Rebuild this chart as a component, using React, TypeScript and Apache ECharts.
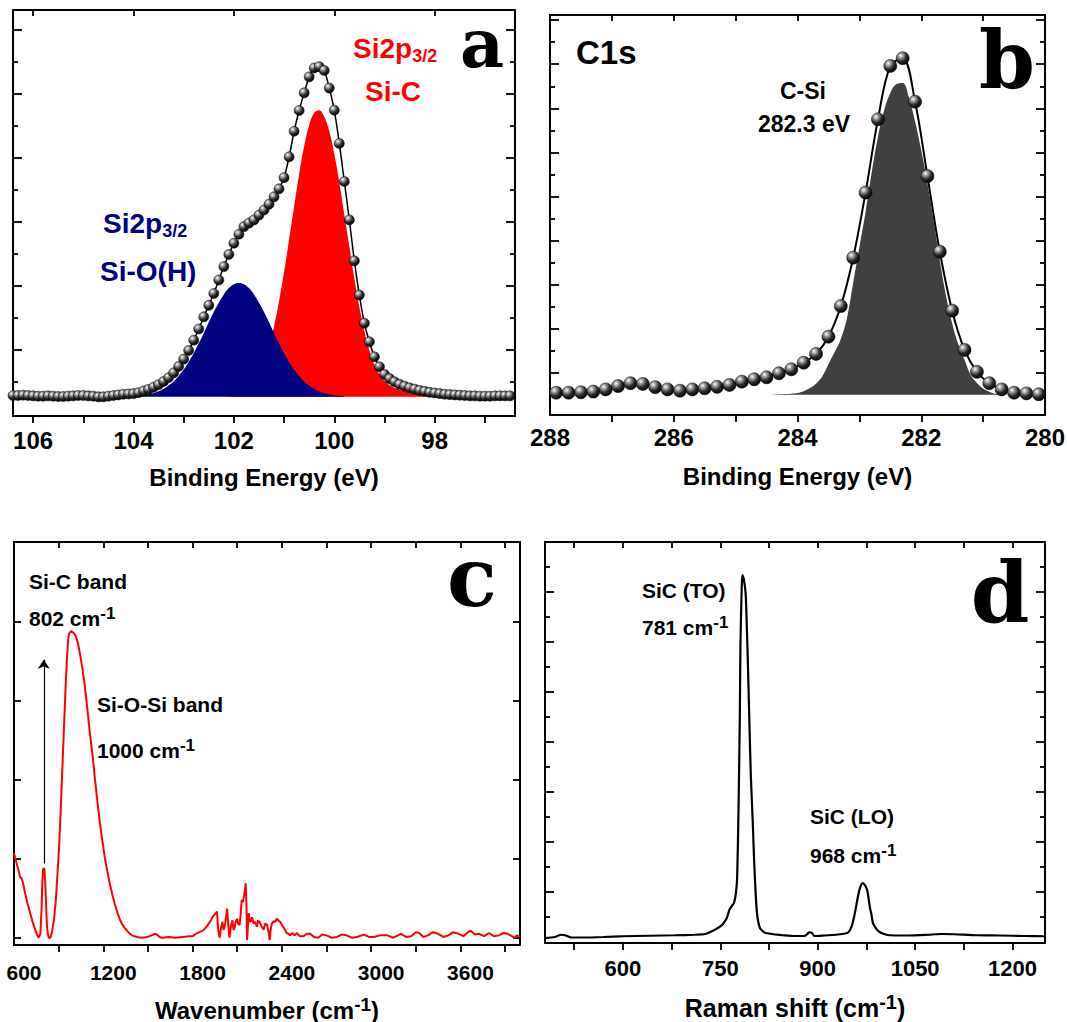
import React, { useEffect, useRef } from "react";
import * as echarts from "echarts";

const SANS = "'Liberation Sans', Arial, Helvetica, sans-serif";
const SERIF = "'DejaVu Serif', 'Liberation Serif', serif";

// ---------- Panel a : Si2p XPS ----------
const aEnergy = [106.4,106.3,106.2,106.1,106.0,105.9,105.8,105.7,105.6,105.5,105.4,105.3,105.2,105.1,105.0,104.9,104.8,104.7,104.6,104.5,104.4,104.3,104.2,104.1,104.0,103.9,103.8,103.7,103.6,103.5,103.4,103.3,103.2,103.1,103.0,102.9,102.8,102.7,102.6,102.5,102.4,102.3,102.2,102.1,102.0,101.9,101.8,101.7,101.6,101.5,101.4,101.3,101.2,101.1,101.0,100.9,100.8,100.7,100.6,100.5,100.4,100.3,100.2,100.1,100.0,99.9,99.8,99.7,99.6,99.5,99.4,99.3,99.2,99.1,99.0,98.9,98.8,98.7,98.6,98.5,98.4,98.3,98.2,98.1,98.0,97.9,97.8,97.7,97.6,97.5,97.4,97.3,97.2,97.1,97.0,96.9,96.8,96.7,96.6,96.5];
const aIntensity = [0.64,0.64,0.65,0.64,0.63,0.62,0.62,0.63,0.62,0.61,0.61,0.62,0.63,0.64,0.64,0.63,0.62,0.60,0.60,0.62,0.64,0.66,0.68,0.69,0.70,0.73,0.78,0.83,0.90,0.98,1.08,1.20,1.35,1.55,1.78,2.05,2.37,2.72,3.10,3.46,3.83,4.25,4.67,5.05,5.40,5.68,5.92,6.03,6.13,6.28,6.44,6.62,6.85,7.10,7.45,8.10,8.90,9.55,10.10,10.60,10.88,10.92,10.80,10.25,9.56,8.52,7.33,6.13,4.85,3.78,2.90,2.32,1.85,1.54,1.30,1.17,1.07,0.99,0.93,0.88,0.84,0.80,0.77,0.74,0.72,0.70,0.68,0.67,0.66,0.65,0.64,0.63,0.63,0.62,0.62,0.62,0.63,0.63,0.63,0.63];
const aSiCEnergy = [102.2,102.1,102.0,101.9,101.8,101.7,101.6,101.5,101.4,101.3,101.2,101.1,101.0,100.9,100.8,100.7,100.6,100.5,100.4,100.3,100.2,100.1,100.0,99.9,99.8,99.7,99.6,99.5,99.4,99.3,99.2,99.1,99.0,98.9,98.8,98.7,98.6,98.5,98.4,98.3,98.2,98.1,98.0,97.9,97.8,97.7,97.6];
const aSiCFit = [0.60,0.61,0.64,0.69,0.76,0.88,1.05,1.31,1.68,2.17,2.80,3.59,4.50,5.51,6.55,7.55,8.43,9.09,9.48,9.56,9.35,8.90,8.20,7.30,6.30,5.30,4.30,3.40,2.65,2.05,1.60,1.30,1.10,0.97,0.88,0.82,0.78,0.74,0.71,0.68,0.66,0.64,0.63,0.62,0.61,0.60,0.60];
const aSiOEnergy = [104.0,103.9,103.8,103.7,103.6,103.5,103.4,103.3,103.2,103.1,103.0,102.9,102.8,102.7,102.6,102.5,102.4,102.3,102.2,102.1,102.0,101.9,101.8,101.7,101.6,101.5,101.4,101.3,101.2,101.1,101.0,100.9,100.8,100.7,100.6,100.5,100.4,100.3,100.2,100.1,100.0,99.9,99.8];
const aSiOFit = [0.62,0.63,0.65,0.68,0.72,0.77,0.85,0.95,1.08,1.25,1.45,1.69,1.96,2.27,2.59,2.93,3.25,3.54,3.80,4.00,4.12,4.16,4.12,4.00,3.80,3.54,3.25,2.93,2.59,2.27,1.96,1.69,1.45,1.25,1.08,0.95,0.85,0.77,0.72,0.68,0.65,0.63,0.62];
const aXLabels = [98, 100, 102, 104, 106];
const aXTicks = [97, 98, 99, 100, 101, 102, 103, 104, 105, 106];
const aTopTicks = [98, 100, 102, 104, 106];
const aYMajor = [2.06, 4.06, 6.06, 8.06, 10.06, 12.06];
const aYMinor = [1.06, 3.06, 5.06, 7.06, 9.06, 11.06];

// ---------- Panel b : C1s XPS ----------
const bEnergy = [287.9,287.7,287.5,287.3,287.1,286.9,286.7,286.5,286.3,286.1,285.9,285.7,285.5,285.3,285.1,284.9,284.7,284.5,284.3,284.1,283.9,283.7,283.5,283.3,283.1,282.9,282.7,282.5,282.3,282.1,281.9,281.7,281.5,281.3,281.1,280.9,280.7,280.5,280.3,280.1];
const bIntensity = [1.01,1.01,1.03,1.06,1.16,1.31,1.44,1.41,1.26,1.16,1.10,1.16,1.21,1.28,1.36,1.51,1.62,1.71,1.89,2.07,2.37,2.77,3.55,4.94,7.13,10.08,13.40,15.82,16.17,14.20,10.83,7.40,4.73,2.95,1.96,1.44,1.16,1.01,0.98,0.94];
const bCSiEnergy = [284.4,284.2,284.0,283.9,283.8,283.7,283.6,283.5,283.4,283.3,283.2,283.1,283.0,282.9,282.8,282.7,282.6,282.5,282.4,282.3,282.2,282.1,282.0,281.9,281.8,281.7,281.6,281.5,281.4,281.3,281.2,281.1,281.0,280.9,280.8,280.6];
const bCSiFit = [0.93,0.95,1.00,1.08,1.22,1.42,1.75,2.30,2.85,3.45,4.40,6.00,7.60,9.20,11.00,12.60,13.80,14.60,15.00,15.05,14.40,13.30,12.00,10.50,8.80,7.00,5.40,4.15,3.20,2.50,1.80,1.45,1.20,1.05,0.96,0.92];
const bXLabels = [280, 282, 284, 286, 288];
const bXTicks = [281, 282, 283, 284, 285, 286, 287];
const bYMajor = [1.9, 3.9, 5.9, 7.9, 9.9, 11.9, 13.9, 15.9, 17.9];
const bYMinor = [0.9, 2.9, 4.9, 6.9, 8.9, 10.9, 12.9, 14.9, 16.9];

// ---------- Panel c : FTIR ----------
const cSpectrum = [
  [600,1.07],[618,0.94],[630,0.86],[641,0.77],[652,0.75],[660,0.70],[675,0.56],[690,0.44],[709,0.31],[725,0.20],
  [743,0.10],[755,0.04],[766,0.00],[777,0.05],[785,0.35],[790,0.70],[795,0.86],[800,0.88],[804,0.87],[809,0.72],
  [813,0.56],[818,0.30],[822,0.14],[828,0.04],[834,0.00],[845,0.00],[856,0.08],[868,0.22],[880,0.45],[891,0.77],
  [903,1.15],[914,1.62],[925,2.15],[936,2.67],[945,3.10],[955,3.51],[963,3.75],[970,3.85],[982,3.88],[993,3.87],
  [1005,3.85],[1016,3.81],[1028,3.74],[1039,3.64],[1050,3.52],[1061,3.39],[1073,3.23],[1084,3.05],[1095,2.86],[1105,2.67],
  [1117,2.48],[1129,2.29],[1140,2.08],[1152,1.87],[1163,1.68],[1175,1.49],[1192,1.25],[1209,1.03],[1226,0.85],[1243,0.69],
  [1260,0.55],[1277,0.43],[1293,0.33],[1309,0.24],[1327,0.17],[1345,0.12],[1368,0.07],[1391,0.03],[1425,0.01],[1459,0.00],
  [1493,0.01],[1510,0.02],[1527,0.03],[1545,0.05],[1561,0.04],[1578,0.01],[1595,0.00],[1640,0.01],[1686,0.00],[1730,0.01],
  [1777,0.02],[1800,0.02],[1822,0.05],[1845,0.07],[1868,0.09],[1885,0.12],[1902,0.16],[1920,0.21],[1936,0.27],[1950,0.30],
  [1964,0.33],[1972,0.10],[1982,0.00],[1991,0.12],[2000,0.20],[2008,0.10],[2016,0.14],[2024,0.25],[2032,0.37],[2040,0.15],
  [2048,0.00],[2058,0.15],[2068,0.22],[2075,0.10],[2082,0.12],[2090,0.20],[2098,0.24],[2106,0.18],[2116,0.16],[2123,0.30],
  [2130,0.48],[2138,0.45],[2145,0.52],[2151,0.60],[2157,0.69],[2162,0.40],[2166,-0.03],[2172,0.15],[2177,0.31],[2184,0.22],
  [2191,0.20],[2200,0.26],[2209,0.18],[2220,0.20],[2232,0.14],[2241,0.22],[2250,0.20],[2262,0.15],[2277,0.10],[2288,0.18],
  [2300,0.16],[2310,0.08],[2318,-0.03],[2325,0.10],[2332,0.18],[2345,0.21],[2355,0.20],[2366,0.24],[2377,0.22],[2390,0.20],
  [2400,0.16],[2415,0.12],[2432,0.06],[2445,0.05],[2455,0.03],[2470,0.06],[2485,0.03],[2500,0.06],[2520,0.02],[2545,0.02],
  [2568,0.05],[2591,0.05],[2615,0.01],[2645,0.00],[2670,0.04],[2700,0.03],[2735,0.00],[2770,0.01],[2800,0.04],[2836,0.03],
  [2870,0.00],[2905,0.01],[2950,0.04],[2985,0.01],[3018,0.01],[3060,0.03],[3109,0.03],[3150,0.00],[3200,0.05],[3235,0.01],
  [3268,0.02],[3300,0.07],[3323,0.06],[3350,0.01],[3382,0.03],[3415,0.07],[3450,0.05],[3485,0.01],[3518,0.03],[3550,0.07],
  [3586,0.05],[3620,0.02],[3650,0.07],[3668,0.09],[3695,0.04],[3723,0.05],[3760,0.02],[3791,0.06],[3825,0.02],[3859,0.03],
  [3890,0.06],[3918,0.05],[3945,0.02],[3964,0.00],[3980,0.03],[4000,0.01]
];
const cArrow = [[800, 0.94], [800, 3.52]];
const cXLabels = [600, 1200, 1800, 2400, 3000, 3600];
const cXTicks = [900, 1200, 1500, 1800, 2100, 2400, 2700, 3000, 3300, 3600, 3900];
const cYTicks = [0, 1, 2, 3, 4];

// ---------- Panel d : Raman ----------
const dSpectrum = [
  [480,0.20],[495,0.24],[505,0.33],[512,0.30],[520,0.22],[540,0.22],[570,0.24],[600,0.27],[640,0.29],[680,0.31],
  [710,0.33],[727,0.36],[737,0.47],[745,0.58],[753,0.73],[760,1.00],[764,1.33],[768,1.50],[771,1.60],[774,2.00],
  [776,2.67],[778,5.33],[780,9.00],[781,12.00],[783,14.30],[784,14.73],[786,14.60],[789,14.00],[791,12.50],[793,10.67],
  [795,8.60],[797,6.67],[800,4.80],[802,3.33],[804,2.20],[806,1.33],[808,0.90],[811,0.60],[815,0.48],[820,0.40],
  [835,0.34],[847,0.31],[865,0.28],[879,0.28],[884,0.36],[887,0.43],[891,0.40],[895,0.28],[910,0.30],[928,0.33],
  [940,0.37],[947,0.42],[952,0.65],[955,0.93],[958,1.30],[961,1.73],[964,2.10],[966,2.27],[968,2.38],[970,2.40],
  [973,2.30],[976,2.13],[978,1.85],[980,1.47],[983,1.10],[985,0.80],[990,0.58],[994,0.47],[1000,0.38],[1010,0.31],
  [1040,0.30],[1070,0.33],[1091,0.36],[1110,0.35],[1145,0.31],[1180,0.30],[1220,0.28],[1250,0.27]
];
const dXLabels = [600, 750, 900, 1050, 1200];
const dXTicks = [525, 600, 675, 750, 825, 900, 975, 1050, 1125, 1200];
const dYMajor = [2.06, 4.06, 6.06, 8.06, 10.06, 12.06, 14.06];
const dYMinor = [1.06, 3.06, 5.06, 7.06, 9.06, 11.06, 13.06, 15.06];

// ---------- helpers ----------
const zip = (xs: number[], ys: number[]) => xs.map((x, i) => [x, ys[i]]);
const LINE = { color: "#000", width: 2 };
const TICK = { color: "#000", width: 1.8 };

function supRich(size: number, supSize: number, lift: number, color = "#000") {
  return {
    m: { fontSize: size, fontWeight: "bold", fontFamily: SANS, color, fill: color, lineHeight: size + 6 },
    s: { fontSize: supSize, fontWeight: "bold", fontFamily: SANS, color, fill: color, lineHeight: Math.max(2, size + 6 - 2 * lift), verticalAlign: "top" },
  };
}
function subRich(size: number, subSize: number, drop: number, color: string) {
  return {
    m: { fontSize: size, fontWeight: "bold", fontFamily: SANS, fill: color, color, lineHeight: size + 6 },
    s: { fontSize: subSize, fontWeight: "bold", fontFamily: SANS, fill: color, color, lineHeight: Math.max(2, size + 6 - 2 * drop), verticalAlign: "bottom" },
  };
}

type Panel = {
  grid: { left: number; top: number; width: number; height: number };
  xMin: number; xMax: number; inverse?: boolean;
  xLabels: number[]; xTicks: number[]; topTicks: number[];
  labelSize: number; labelMargin: number; labelShift: number;
  name: string; nameGap: number; nameSize: number; nameRich?: any;
  yMin: number; yMax: number; yMajor: number[]; yMinor: number[] | null;
  majorLen: number; minorLen: number;
};

function axesFor(g: number, p: Panel) {
  const xBottom = {
    type: "value", gridIndex: g, position: "bottom", min: p.xMin, max: p.xMax, inverse: !!p.inverse,
    axisLine: { show: true, onZero: false, lineStyle: LINE },
    axisTick: { show: true, inside: false, length: 7, lineStyle: TICK, customValues: p.xTicks },
    axisLabel: {
      show: true, customValues: p.xLabels, margin: p.labelMargin, fontSize: p.labelSize, fontWeight: "bold",
      fontFamily: SANS, color: "#000", formatter: (v: number) => String(v),
      padding: p.labelShift ? [0, 0, 0, p.labelShift * 2] : 0,
    },
    splitLine: { show: false },
    name: p.name, nameLocation: "middle", nameGap: p.nameGap, nameMoveOverlap: false,
    nameTextStyle: { fontSize: p.nameSize, fontWeight: "bold", fontFamily: SANS, color: "#000", rich: p.nameRich },
  };
  const xTop = {
    type: "value", gridIndex: g, position: "top", min: p.xMin, max: p.xMax, inverse: !!p.inverse,
    axisLine: { show: true, onZero: false, lineStyle: LINE },
    axisTick: { show: true, inside: true, length: 6, lineStyle: TICK, customValues: p.topTicks },
    axisLabel: { show: false }, splitLine: { show: false },
  };
  const yAx = (pos: string, vals: number[] | null, len: number, line: boolean) => ({
    type: "value", gridIndex: g, position: pos, min: p.yMin, max: p.yMax,
    axisLine: { show: line, onZero: false, lineStyle: LINE },
    axisTick: vals ? { show: true, inside: true, length: len, lineStyle: TICK, customValues: vals } : { show: false },
    axisLabel: { show: false }, splitLine: { show: false },
  });
  return {
    x: [xBottom, xTop],
    y: [yAx("left", p.yMajor, p.majorLen, true), yAx("right", p.yMajor, p.majorLen, true), yAx("left", p.yMinor, p.minorLen, false), yAx("right", p.yMinor, p.minorLen, false)],
  };
}

function text(x: number, y: number, t: string, size: number, color = "#000", rich?: any, align = "left") {
  return {
    type: "text", x, y, silent: true, z: 50,
    style: { text: t, fill: color, fontSize: size, fontWeight: "bold", fontFamily: SANS, align, verticalAlign: "middle", textAlign: align, textVerticalAlign: "middle", rich },
  };
}
function letter(x: number, y: number, t: string, size: number) {
  return {
    type: "text", x, y, silent: true, z: 50,
    style: { text: t, fill: "#000", fontSize: size, fontWeight: "bold", fontFamily: SERIF, align: "center", verticalAlign: "middle", textAlign: "center", textVerticalAlign: "middle" },
  };
}

function buildOption() {
  const panels: Panel[] = [
    { grid: { left: 13, top: 10, width: 502, height: 406 }, xMin: 96.4, xMax: 106.4, inverse: true,
      xLabels: aXLabels, xTicks: aXTicks, topTicks: aTopTicks, labelSize: 24, labelMargin: 12, labelShift: 0,
      name: "Binding Energy (eV)", nameGap: 49, nameSize: 24,
      yMin: 0, yMax: 12.69, yMajor: aYMajor, yMinor: aYMinor, majorLen: 9, minorLen: 5 },
    { grid: { left: 550, top: 15, width: 495, height: 400 }, xMin: 280, xMax: 288, inverse: true,
      xLabels: bXLabels, xTicks: bXTicks, topTicks: bXTicks, labelSize: 24, labelMargin: 10, labelShift: 0,
      name: "Binding Energy (eV)", nameGap: 49, nameSize: 24,
      yMin: 0, yMax: 18.13, yMajor: bYMajor, yMinor: bYMinor, majorLen: 9, minorLen: 5 },
    { grid: { left: 14, top: 542, width: 506, height: 403 }, xMin: 600, xMax: 4000,
      xLabels: cXLabels, xTicks: cXTicks, topTicks: cXTicks, labelSize: 21, labelMargin: 17, labelShift: 10,
      name: "{m|Wavenumber (cm}{s|-1}{m|)}", nameGap: 50, nameSize: 24, nameRich: supRich(24, 19, 12),
      yMin: -0.092, yMax: 5.01, yMajor: cYTicks, yMinor: null, majorLen: 7, minorLen: 0 },
    { grid: { left: 545, top: 542, width: 500, height: 401 }, xMin: 480, xMax: 1250,
      xLabels: dXLabels, xTicks: dXTicks, topTicks: dXTicks, labelSize: 22, labelMargin: 14, labelShift: 0,
      name: "{m|Raman shift (cm}{s|-1}{m|)}", nameGap: 49, nameSize: 25, nameRich: supRich(25, 20, 12),
      yMin: 0, yMax: 16.06, yMajor: dYMajor, yMinor: dYMinor, majorLen: 9, minorLen: 5 },
  ];
  const xAxis: any[] = [];
  const yAxis: any[] = [];
  panels.forEach((p, g) => {
    const a = axesFor(g, p);
    xAxis.push(...a.x);
    yAxis.push(...a.y);
  });

  const sphere = () =>
    new echarts.graphic.RadialGradient(0.35, 0.3, 0.75, [
      { offset: 0, color: "#ffffff" },
      { offset: 0.22, color: "#a8a8a8" },
      { offset: 0.6, color: "#2a2a2a" },
      { offset: 1, color: "#000000" },
    ]);

  const series: any[] = [
    // panel a
    { type: "line", xAxisIndex: 0, yAxisIndex: 0, data: zip(aSiCEnergy, aSiCFit), smooth: 0.4, symbol: "none", silent: true, z: 2,
      lineStyle: { width: 0 }, areaStyle: { color: "#ff0000", opacity: 1, origin: 0.6 } },
    { type: "line", xAxisIndex: 0, yAxisIndex: 0, data: zip(aSiOEnergy, aSiOFit), smooth: 0.4, symbol: "none", silent: true, z: 3,
      lineStyle: { width: 0 }, areaStyle: { color: "#000080", opacity: 1, origin: 0.6 } },
    { type: "line", xAxisIndex: 0, yAxisIndex: 0, data: zip(aEnergy, aIntensity), smooth: 0.3, symbol: "circle", symbolSize: 10, showSymbol: true, silent: true, z: 4,
      lineStyle: { color: "#000", width: 1.5 }, itemStyle: { color: sphere(), borderColor: "#000", borderWidth: 0.5 } },
    // panel b
    { type: "line", xAxisIndex: 2, yAxisIndex: 4, data: zip(bCSiEnergy, bCSiFit), smooth: 0.4, symbol: "none", silent: true, z: 2,
      lineStyle: { width: 0 }, areaStyle: { color: "#404040", opacity: 1, origin: 0.92 } },
    { type: "line", xAxisIndex: 2, yAxisIndex: 4, data: zip(bEnergy, bIntensity), smooth: 0.35, symbol: "circle", symbolSize: 13, showSymbol: true, silent: true, z: 4,
      lineStyle: { color: "#000", width: 2 }, itemStyle: { color: sphere(), borderColor: "#000", borderWidth: 0.5 } },
    // panel c
    { type: "line", xAxisIndex: 4, yAxisIndex: 8, data: cSpectrum, symbol: "none", silent: true, z: 3,
      lineStyle: { color: "#ff0000", width: 2 },
      markLine: { silent: true, symbol: ["none", "arrow"], symbolSize: 9, label: { show: false },
        lineStyle: { color: "#000", width: 1.2, type: "solid" },
        data: [[{ coord: cArrow[0] }, { coord: cArrow[1] }]] } },
    // panel d
    { type: "line", xAxisIndex: 6, yAxisIndex: 12, data: dSpectrum, smooth: 0.2, symbol: "none", silent: true, z: 3,
      lineStyle: { color: "#000", width: 2.2 } },
  ];

  const graphic: any[] = [
    letter(482, 43, "a", 68),
    letter(1007, 60, "b", 80),
    letter(472, 577, "c", 82),
    letter(1000, 592, "d", 84),
    text(353, 48, "{m|Si2p}{s|3/2}", 28, "#ff0000", subRich(28, 18, 12, "#ff0000")),
    text(365, 91, "Si-C", 28, "#ff0000"),
    text(103, 223, "{m|Si2p}{s|3/2}", 28, "#000080", subRich(28, 18, 12, "#000080")),
    text(100, 271, "Si-O(H)", 28, "#000080"),
    text(576, 52, "C1s", 33),
    text(803, 91, "C-Si", 23, "#000", undefined, "center"),
    text(804, 124, "282.3 eV", 23, "#000", undefined, "center"),
    text(29, 581, "Si-C band", 21),
    text(29, 618, "{m|802 cm}{s|-1}", 21, "#000", supRich(21, 17, 8)),
    text(97, 704, "Si-O-Si band", 21),
    text(97, 750, "{m|1000 cm}{s|-1}", 21, "#000", supRich(21, 17, 8)),
    text(642, 590, "SiC (TO)", 21),
    text(642, 627, "{m|781 cm}{s|-1}", 21, "#000", supRich(21, 17, 8)),
    text(810, 816, "SiC (LO)", 21),
    text(810, 855, "{m|968 cm}{s|-1}", 21, "#000", supRich(21, 17, 8)),
  ];

  return {
    animation: false,
    backgroundColor: "#ffffff",
    grid: panels.map((p) => ({ ...p.grid, show: false, containLabel: false, outerBoundsMode: "none" })),
    xAxis,
    yAxis,
    series,
    graphic,
  };
}

export default function App() {
  const ref = useRef<HTMLDivElement>(null);
  useEffect(() => {
    if (!ref.current) return;
    const chart = echarts.init(ref.current, null, { renderer: "svg" });
    chart.setOption(buildOption() as any);
    return () => chart.dispose();
  }, []);
  return (
    <div
      ref={ref}
      style={{ position: "fixed", left: 0, top: 0, width: 1067, height: 1022, background: "#fff" }}
    />
  );
}
